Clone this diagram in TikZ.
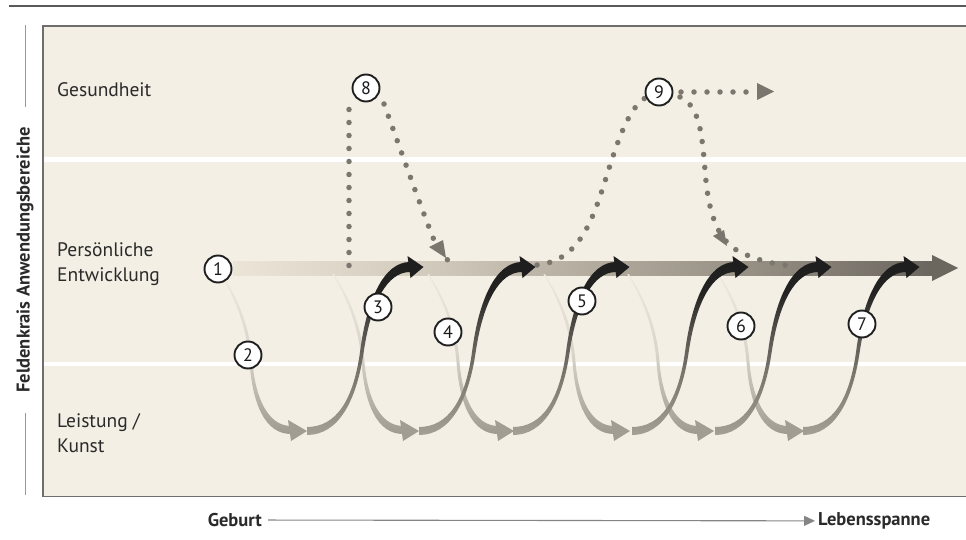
\documentclass[tikz,border=0pt]{standalone}
\usepackage{fontspec}
\setmainfont{PT Sans}
\usetikzlibrary{arrows.meta}

\definecolor{panelbg}{HTML}{F3EFE5}
\definecolor{framecol}{HTML}{6E6E6E}
\definecolor{labtext}{HTML}{2A2A2A}
\definecolor{barA}{HTML}{EBE5D8}
\definecolor{barB}{HTML}{CFC8BA}
\definecolor{barC}{HTML}{B1AA9D}
\definecolor{barD}{HTML}{968F84}
\definecolor{barE}{HTML}{6A655E}
\definecolor{barheadcol}{HTML}{6B665E}
\definecolor{upA}{HTML}{A5A094}
\definecolor{upB}{HTML}{78736B}
\definecolor{upC}{HTML}{55524D}
\definecolor{upD}{HTML}{242322}
\definecolor{upE}{HTML}{1E1E1E}
\definecolor{dnA}{HTML}{A09B90}
\definecolor{dnB}{HTML}{BDB8AD}
\definecolor{dnC}{HTML}{D9D4C9}
\definecolor{dnD}{HTML}{EFEAE0}
\definecolor{dnhead}{HTML}{A29D92}
\definecolor{dotcol}{HTML}{7B766E}
\definecolor{dotheadcol}{HTML}{7A756D}
\definecolor{axiscol}{HTML}{858585}

% bar runs light to dark from left to right
\pgfdeclarehorizontalshading{barshade}{100bp}{color(0bp)=(barA); color(25bp)=(barA);
  color(40bp)=(barB); color(51bp)=(barC); color(62bp)=(barD); color(75bp)=(barE); color(100bp)=(barE)}
% rising ribbons: grey at the bottom, black at the top
\pgfdeclareverticalshading{upshade}{100bp}{color(0bp)=(upA); color(25bp)=(upA);
  color(43.5bp)=(upB); color(55bp)=(upC); color(66bp)=(upD); color(75bp)=(upE); color(100bp)=(upE)}
% falling ribbons: almost invisible at the top, grey at the bottom
\pgfdeclareverticalshading{downshade}{100bp}{color(0bp)=(dnA); color(25bp)=(dnA);
  color(38bp)=(dnB); color(50bp)=(dnC); color(75bp)=(dnD); color(100bp)=(dnD)}

\tikzset{
  panel/.style={fill=panelbg, draw=framecol, line width=1.3pt},
  band/.style={fill=white},
  toprule/.style={draw=black!65, line width=1.2pt},
  sideline/.style={draw=black!40, line width=0.8pt},
  lab/.style={inner sep=0pt, text=labtext, font=\fontsize{19.5}{25}\selectfont},
  axlab/.style={inner sep=0pt, text=labtext, font=\bfseries\fontsize{18.5}{22}\selectfont},
  axisline/.style={draw=axiscol, line width=1.1pt, -{Triangle[length=11pt,width=10pt]}},
  num/.style={circle, draw=black!88, line width=1.9pt, fill=white, minimum size=27pt,
    inner sep=0pt, text=black!90, font=\fontsize{18}{18}\selectfont},
  dotline/.style={draw=dotcol, line width=5.5pt, line cap=round, dash pattern=on 0pt off 13pt},
  dothead/.style={fill=dotheadcol},
  barhead/.style={fill=barheadcol},
  uphead/.style={fill=upE},
  downhead/.style={fill=dnhead}
}

% rising ribbon with black head; #1 = x where it leaves the bottom row
\newcommand\risingribbon[1]{%
  \begin{scope}[shift={(#1,431)}]
    \shade[shading=upshade] (0,-4) .. controls (29,-4) and (46.5,-30.5) .. (53.2,-80.2)
      .. controls (60,-132) and (77,-169) .. (103,-169) -- (103,-159)
      .. controls (80,-159) and (64,-128) .. (56.8,-79.8)
      .. controls (49.5,-29) and (31,4) .. (0,4) -- cycle;
    \fill[uphead] (100.5,-175) -- (116.5,-164) -- (103.5,-153) -- cycle;
  \end{scope}}

% falling ribbon with grey head; #1 = x where it leaves the bar
\newcommand\fallingribbon[1]{%
  \begin{scope}[shift={(#1,274)}]
    \shade[shading=downshade] (-0.7,0) .. controls (13,22.5) and (25.5,50) .. (28.5,88)
      .. controls (31.5,130) and (44,160) .. (70,160) -- (70,152)
      .. controls (48,152) and (34.5,126) .. (31.5,88)
      .. controls (28.5,49.5) and (15,21.5) .. (0.7,0) -- cycle;
    \fill[downhead] (67,146) -- (86,157) -- (70,167) -- cycle;
  \end{scope}}

\begin{document}
\begin{tikzpicture}[x=1pt, y=-1pt]
  \useasboundingbox (0,0) rectangle (966,540);
  \clip (0,0) rectangle (966,540);

  % frame and bands
  \draw[toprule] (9,6) -- (980,6);
  \filldraw[panel] (43,26) rectangle (990,496.5);
  \fill[band] (44,157) rectangle (990,162);
  \fill[band] (44,361.5) rectangle (990,365.5);

  % life-span bar
  \shade[shading=barshade] (233,261) rectangle (932,275);
  \fill[barhead] (932,255) -- (958,268) -- (932,281) -- cycle;

  % dips into performance / art
  \foreach \x in {221,333,428,544,628,718} { \fallingribbon{\x} }
  % returns to personal development
  \foreach \x in {307,419,513,632,715,803} { \risingribbon{\x} }

  % excursions into health
  \coordinate (p8up) at (349,265.5);
  \coordinate (p8top) at (349,96.5);
  \coordinate (p8out) at (384,104);
  \coordinate (p8end) at (456,264);
  \coordinate (p9in) at (537,265);
  \coordinate (p9top) at (645,98);
  \coordinate (p9h) at (681,92);
  \coordinate (p9he) at (755,92);
  \coordinate (p9d) at (680,97);
  \coordinate (p9end) at (792,266);

  \draw[dotline] (p8up) -- (p8top);
  \draw[dotline] (p8out) .. controls (400,148) and (420,205) .. (434,240)
    .. controls (440,254) and (447,262) .. (p8end);
  \draw[dotline] (p9in) .. controls (568,262) and (584,240) .. (597,205)
    .. controls (610,170) and (622,113) .. (p9top);
  \draw[dotline] (p9h) -- (p9he);
  \draw[dotline] (p9d) .. controls (700,106) and (702,135) .. (705,170)
    .. controls (708,210) and (716,240) .. (740,252)
    .. controls (757,260) and (772,264) .. (p9end);
  \fill[dothead] (429,247) -- (443,240) -- (446,258) -- cycle;
  \fill[dothead] (713,236) -- (724,230) -- (727,246) -- cycle;
  \fill[dothead] (757,83) -- (774,91.5) -- (757,100) -- cycle;

  % numbered markers
  \node[num] (c1) at (218,269) {1};
  \node[num] (c2) at (248,355) {2};
  \node[num] (c3) at (378,307) {3};
  \node[num] (c4) at (448,332) {4};
  \node[num] (c5) at (582,301) {5};
  \node[num] (c6) at (741,326) {6};
  \node[num] (c7) at (862,324) {7};
  \node[num] (c8) at (366,88) {8};
  \node[num] (c9) at (659,92) {9};

  % row labels
  \node[lab, anchor=base west] (ges) at (57,96.5) {Gesundheit};
  \node[lab, anchor=base west] (pe1) at (57,256.5) {Persönliche};
  \node[lab, anchor=base west] (pe2) at (57,281) {Entwicklung};
  \node[lab, anchor=base west] (le1) at (57,427) {Leistung /};
  \node[lab, anchor=base west] (le2) at (57,452) {Kunst};

  % axes
  \node[axlab, rotate=90] (feld) at (25,260) {Feldenkrais Anwendungsbereiche};
  \draw[sideline] (25,25) -- (25,107);
  \draw[sideline] (25,413) -- (25,495);

  \node[axlab, anchor=base east] (geb) at (262,526.5) {Geburt};
  \node[axlab, anchor=base west] (leb) at (818,525.5) {Lebensspanne};
  \draw[axisline, shorten <=6pt, shorten >=3pt] (geb.east) -- (leb.west);
\end{tikzpicture}
\end{document}
